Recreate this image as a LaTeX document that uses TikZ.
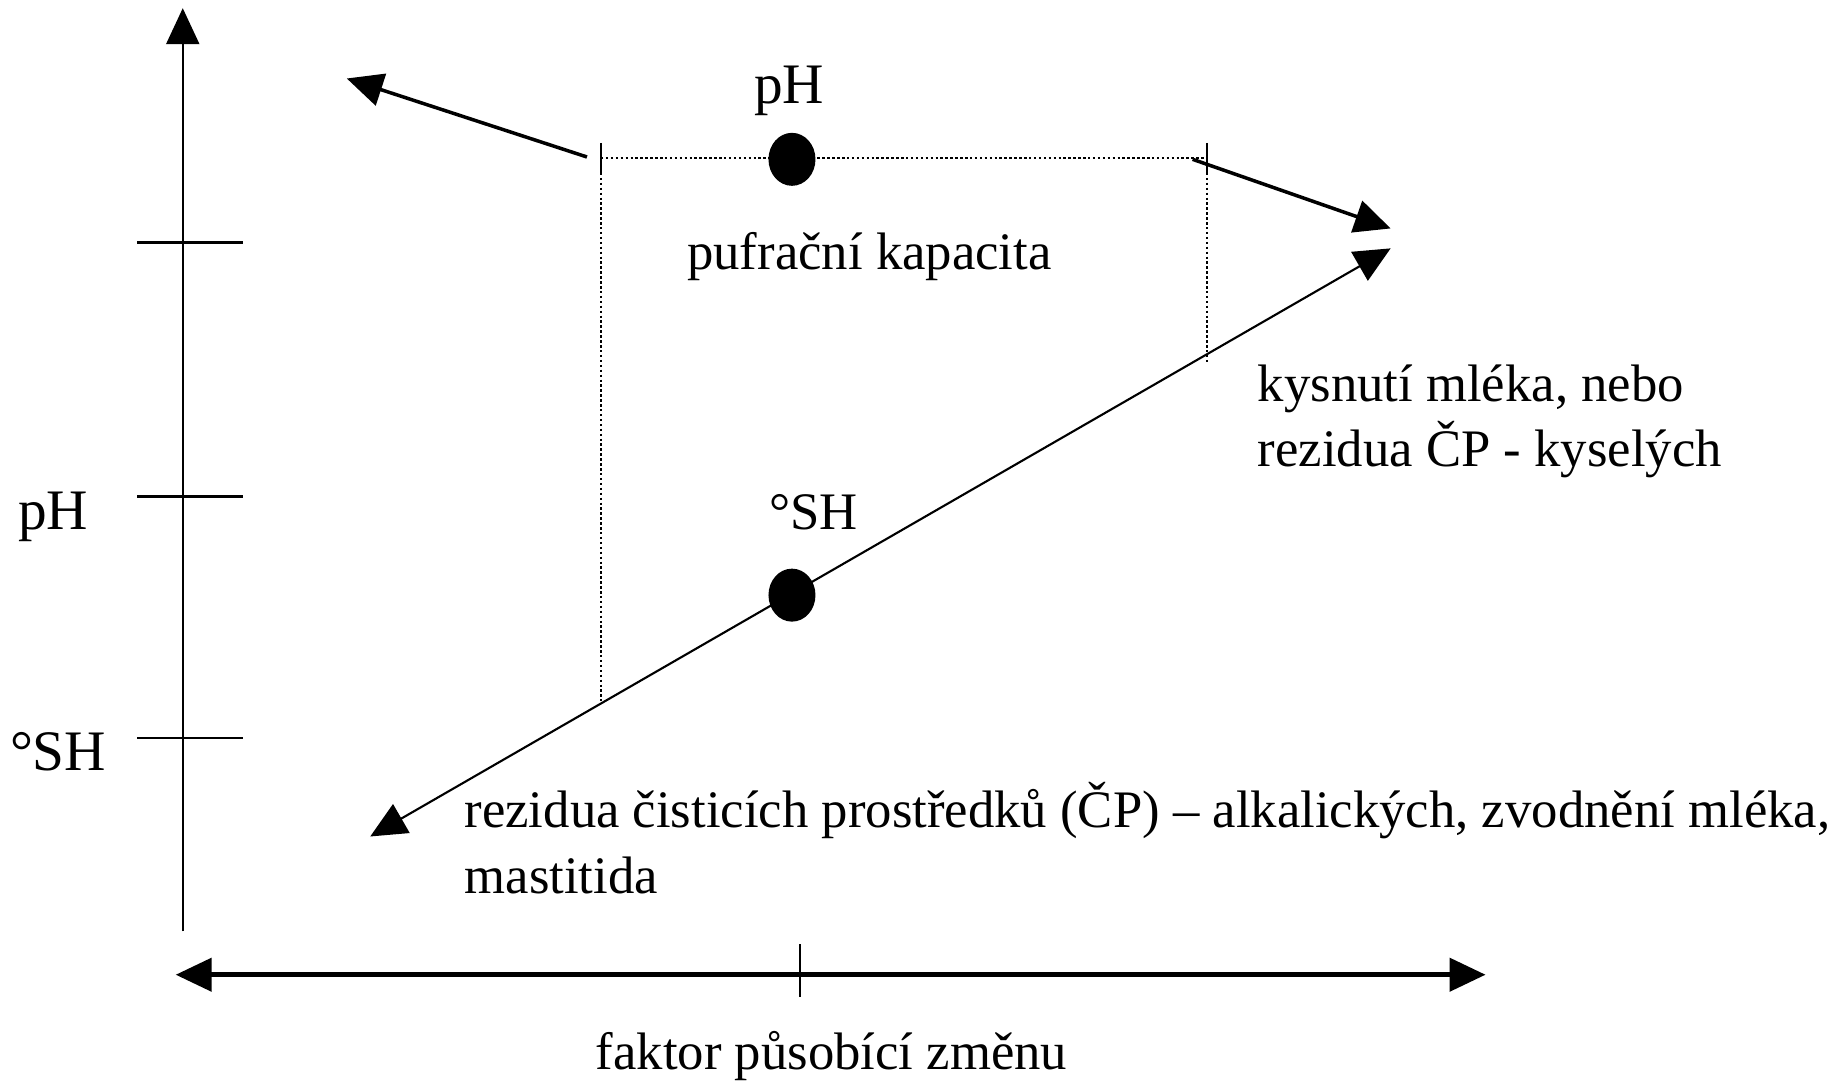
\documentclass[tikz,border=0pt]{standalone}
\usepackage{fontspec}
\setmainfont{Liberation Serif}
\usetikzlibrary{arrows.meta,shapes.geometric}
\begin{document}
\begin{tikzpicture}[x=0.011716cm,y=-0.011716cm,
  lbl/.style={font=\fontsize{15}{18.6}\selectfont, inner sep=0pt, align=left},
  biglbl/.style={font=\fontsize{16.3}{19}\selectfont, inner sep=0pt},
  bigtip/.style={-{Triangle[length=0.36cm,width=0.33cm]}},
  bothtip/.style={{Triangle[length=0.36cm,width=0.33cm]}-{Triangle[length=0.36cm,width=0.33cm]}},
  axisline/.style={line width=0.65pt},
  tickline/.style={line width=0.8pt},
  dotline/.style={line width=0.5pt, dash pattern=on 0.7pt off 0.7pt},
  blob/.style={ellipse, fill=black, inner sep=0pt, minimum width=0.47cm, minimum height=0.53cm}]
\useasboundingbox (0,0) rectangle (1568,926);

% vertical axis
\coordinate (yb) at (156,795);
\coordinate (yt) at (156,7);
\draw[axisline, bigtip] (yb) -- (yt);
\coordinate (t1a) at (117,207); \coordinate (t1b) at (207,207);
\coordinate (t2a) at (117,424); \coordinate (t2b) at (207,424);
\coordinate (t3a) at (117,630); \coordinate (t3b) at (207,630);
\draw[tickline] (t1a) -- (t1b);
\draw[tickline] (t2a) -- (t2b);
\draw[tickline] (t3a) -- (t3b);
\node[biglbl, anchor=base west] (lph) at (15,452) {pH};
\node[biglbl, anchor=base west] (lsh) at (8,658) {°SH};

% horizontal axis
\coordinate (xl) at (150,832);
\coordinate (xr) at (1268,832);
\draw[line width=1.3pt, bothtip] (xl) -- (xr);
\coordinate (xta) at (683,806); \coordinate (xtb) at (683,851);
\draw[axisline] (xta) -- (xtb);
\node[lbl, anchor=base west] (xlab) at (508,913) {faktor působící změnu};

% top dotted bracket
\coordinate (dl) at (513,135);
\coordinate (dr) at (1030,135);
\coordinate (dlb) at (513,598);
\coordinate (drb) at (1030,310);
\draw[dotline] (dl) -- (dr);
\draw[dotline] (dl) -- (dlb);
\draw[dotline] (dr) -- (drb);
\coordinate (dlt1) at (513,122); \coordinate (dlt2) at (513,148);
\coordinate (drt1) at (1030,122); \coordinate (drt2) at (1030,148);
\draw[line width=0.6pt] (dlt1) -- (dlt2);
\draw[line width=0.6pt] (drt1) -- (drt2);

% upper arrows
\coordinate (ua1) at (501,134); \coordinate (ua2) at (296,67);
\draw[line width=1pt, bigtip] (ua1) -- (ua2);
\coordinate (ub1) at (1018,136); \coordinate (ub2) at (1187,195);
\draw[line width=1pt, bigtip] (ub1) -- (ub2);

% diagonal
\coordinate (dg1) at (316,714); \coordinate (dg2) at (1187,212);
\draw[line width=0.6pt, bothtip] (dg1) -- (dg2);

% dots
\node[blob] (phdot) at (676,136) {};
\node[blob] (shdot) at (676,508) {};

% labels
\node[biglbl, anchor=base west] (phlab) at (643,88) {pH};
\node[lbl, anchor=base west] (pufr) at (586,230) {pufrační kapacita};
\node[lbl, anchor=base west] (shlab) at (656,452) {°SH};
\node[lbl, anchor=base west] (kys1) at (1073,343) {kysnutí mléka, nebo};
\node[lbl, anchor=base west] (kys2) at (1073,398) {rezidua ČP - kyselých};
\node[lbl, anchor=base west] (rez1) at (396,706) {rezidua čisticích prostředků (ČP) – alkalických, zvodnění mléka,};
\node[lbl, anchor=base west] (rez2) at (396,763) {mastitida};
\end{tikzpicture}
\end{document}
